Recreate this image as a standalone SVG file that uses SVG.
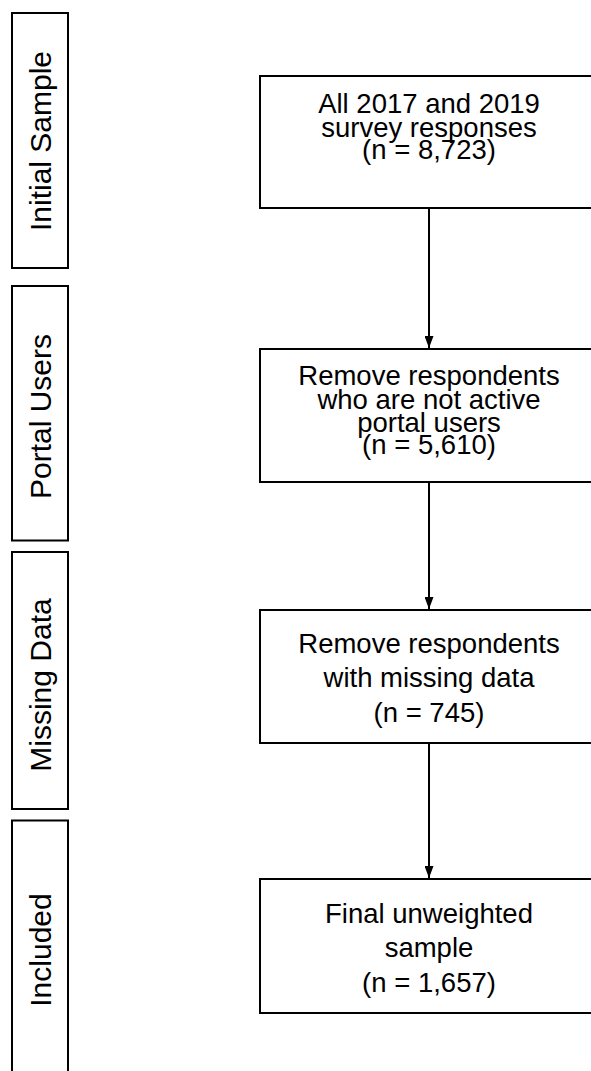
<svg xmlns="http://www.w3.org/2000/svg" width="591" height="1071" viewBox="0 0 591 1071">
<style>
.box{fill:#fff;stroke:#000;stroke-width:2}
.t{font-family:"Liberation Sans",Arial,sans-serif;font-size:27.5px;fill:#000;text-anchor:middle}
.s{font-family:"Liberation Sans",Arial,sans-serif;font-size:30px;fill:#000;text-anchor:middle}
.c{stroke:#000;stroke-width:2;fill:none}
</style>
<defs>
<marker id="ah" viewBox="0 0 12 9" refX="12" refY="4.5" markerWidth="6" markerHeight="4.5" markerUnits="strokeWidth" orient="auto">
<path d="M0,0 L12,4.5 L0,9 z" fill="#000"/>
</marker>
</defs>
<rect width="591" height="1071" fill="#fff"/>
<g id="stage-initial"><rect class="box" x="12" y="13" width="56" height="255"/><text class="s" transform="translate(51,141) rotate(-90)">Initial Sample</text></g>
<g id="stage-portal"><rect class="box" x="12" y="286" width="56" height="254.5"/><text class="s" transform="translate(51,416.5) rotate(-90)">Portal Users</text></g>
<g id="stage-missing"><rect class="box" x="12" y="552" width="56" height="257"/><text class="s" transform="translate(51,685) rotate(-90)">Missing Data</text></g>
<g id="stage-included"><rect class="box" x="12" y="820.5" width="56" height="260"/><text class="s" transform="translate(51,950) rotate(-90)">Included</text></g>
<g id="n1"><rect class="box" x="260" y="76" width="340" height="132"/>
<text class="t" x="429" y="113">All 2017 and 2019</text><text class="t" x="429" y="137">survey responses</text><text class="t" x="429" y="159">(n = 8,723)</text></g>
<g id="n2"><rect class="box" x="260" y="349" width="340" height="133"/>
<text class="t" x="429" y="385">Remove respondents</text><text class="t" x="429" y="409">who are not active</text><text class="t" x="429" y="432">portal users</text><text class="t" x="429" y="454">(n = 5,610)</text></g>
<g id="n3"><rect class="box" x="260" y="610" width="340" height="133"/>
<text class="t" x="429" y="653">Remove respondents</text><text class="t" x="429" y="687">with missing data</text><text class="t" x="429" y="721.5">(n = 745)</text></g>
<g id="n4"><rect class="box" x="260" y="879" width="340" height="134"/>
<text class="t" x="429" y="923">Final unweighted</text><text class="t" x="429" y="957">sample</text><text class="t" x="429" y="991.5">(n = 1,657)</text></g>
<g id="connectors">
<line class="c" x1="429" y1="208" x2="429" y2="348" marker-end="url(#ah)"/>
<line class="c" x1="429" y1="482" x2="429" y2="609" marker-end="url(#ah)"/>
<line class="c" x1="429" y1="743" x2="429" y2="878" marker-end="url(#ah)"/>
</g>
</svg>
